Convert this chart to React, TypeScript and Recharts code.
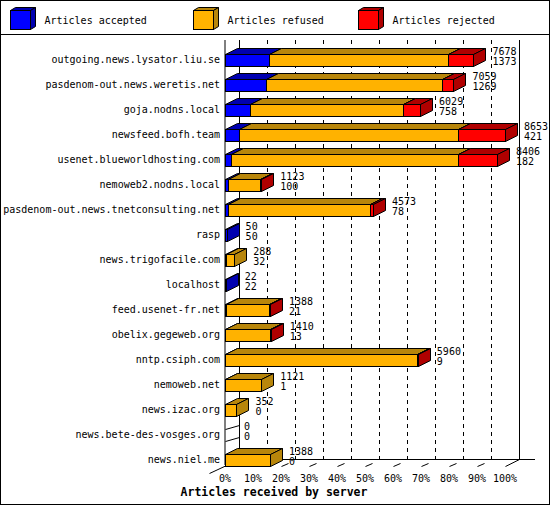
import { Bar, BarChart, CartesianGrid, LabelList, XAxis, YAxis } from "recharts";

// Articles received per feeding server (innreport style).
const servers = [
  "outgoing.news.lysator.liu.se",
  "pasdenom-out.news.weretis.net",
  "goja.nodns.local",
  "newsfeed.bofh.team",
  "usenet.blueworldhosting.com",
  "nemoweb2.nodns.local",
  "pasdenom-out.news.tnetconsulting.net",
  "rasp",
  "news.trigofacile.com",
  "localhost",
  "feed.usenet-fr.net",
  "obelix.gegeweb.org",
  "nntp.csiph.com",
  "nemoweb.net",
  "news.izac.org",
  "news.bete-des-vosges.org",
  "news.niel.me",
];
const totals = [7678, 7059, 6029, 8653, 8406, 1123, 4573, 50, 288, 22, 1388, 1410, 5960, 1121, 352, 0, 1388];
const accepted = [1373, 1269, 758, 421, 182, 100, 78, 50, 32, 22, 21, 13, 9, 1, 0, 0, 0];
const refused = [5520, 5450, 4746, 6769, 7008, 993, 4395, 0, 256, 0, 1352, 1387, 5936, 1120, 352, 0, 1388];
const rejected = [785, 340, 525, 1463, 1216, 30, 100, 0, 0, 0, 15, 10, 15, 0, 0, 0, 0];
const percentTicks = [0, 10, 20, 30, 40, 50, 60, 70, 80, 90, 100];

const series = [
  { key: "accepted", name: "Articles accepted", front: "#0000ff", dark: "#0000b0" },
  { key: "refused", name: "Articles refused", front: "#ffb200", dark: "#b8860b" },
  { key: "rejected", name: "Articles rejected", front: "#ff0000", dark: "#b00000" },
];

const data = servers.map((name, i) => ({
  name,
  total: totals[i],
  accepted: accepted[i],
  refused: refused[i],
  rejected: rejected[i],
}));
const maxTotal = Math.max(...totals);

const FONT = "'DejaVu Sans Mono', 'Liberation Mono', monospace";
const W = 548; // inside the 1px frame
const LEGEND_H = 34;
const CHART_H = 503 - LEGEND_H;
const MARGIN = { top: 5, right: 44, bottom: 0, left: 0 };
const Y_AXIS_W = 224;
const X_AXIS_H = 39;
const PLOT_RIGHT = W - MARGIN.right;
const DX = 12; // bar depth
const DY = 6;
const WALL_DX = 14;
const WALL_DY = 6;
const SHIFT = 7; // bars sit at the bottom of their band
const LEGEND_X = [9, 192, 357];

const px = (v: number) => Math.round(v) + 0.5;

function boxShape(front: string, dark: string, first: boolean) {
  return (props: any) => {
    const { x, y, width, height, payload } = props;
    if (!(height > 0)) return <g />;
    const l = px(x);
    const t = px(y + SHIFT);
    const b = t + Math.round(height);
    if (!(width > 0)) {
      // an empty row still shows the edges of a flat box
      if (first && payload && payload.total === 0) {
        return (
          <g stroke="#000" strokeWidth={1}>
            <line x1={l} y1={t} x2={l + DX + 2} y2={t - DY + 2} />
            <line x1={l} y1={b} x2={l + DX + 2} y2={b - DY + 2} />
          </g>
        );
      }
      return <g />;
    }
    const r = Math.max(px(x + width), l + 1);
    return (
      <g stroke="#000" strokeWidth={1}>
        <polygon points={`${l},${t} ${l + DX},${t - DY} ${r + DX},${t - DY} ${r},${t}`} fill={dark} />
        <polygon points={`${r},${t} ${r + DX},${t - DY} ${r + DX},${b - DY} ${r},${b}`} fill={dark} />
        <rect x={l} y={t} width={r - l} height={b - t} fill={front} />
      </g>
    );
  };
}

const labelBox = (props: any) => {
  const vb = props.viewBox ?? props;
  return { x: Number(vb.x ?? props.x), y: Number(vb.y ?? props.y), w: Number(vb.width ?? props.width ?? 0) };
};

const totalLabel = (props: any) => {
  const { x, y, w } = labelBox(props);
  return (
    <text x={x + w + 19} y={y + SHIFT + 1} fontFamily={FONT} fontSize={10} fill="#000">
      {props.value}
    </text>
  );
};

const acceptedLabel = (props: any) => {
  const { x, y, w } = labelBox(props);
  return (
    <text x={x + w + 19} y={y + SHIFT + 11} fontFamily={FONT} fontSize={10} fill="#000">
      {props.value}
    </text>
  );
};

const renderServerTick = (props: any) => {
  const { x, y, payload } = props;
  return (
    <text x={x} y={y + 6.5} dy="0.35em" textAnchor="end" fontFamily={FONT} fontSize={10} fill="#000">
      {payload.value}
    </text>
  );
};

const renderPercentTick = (props: any) => {
  const { x, y, payload } = props;
  return (
    <text x={x} y={y + 16.5} textAnchor="middle" fontFamily={FONT} fontSize={10} fill="#000">
      {`${Math.round((payload.value / maxTotal) * 100)}%`}
    </text>
  );
};

// back wall, floor and gridlines drawn one step behind the front plane
const renderGridLine = (props: any) => {
  const { x1, y1, y2, index } = props;
  const last = index === percentTicks.length - 1;
  const fx = px(x1);
  const bx = px(x1 + WALL_DX);
  const floorY = px(y2 - WALL_DY);
  const frontY = px(y2 + 1);
  return (
    <g key={`grid-${index}`} stroke="#000" strokeWidth={1} fill="none">
      <line x1={bx} y1={y1} x2={bx} y2={floorY} strokeDasharray={index === 0 || last ? undefined : "4 4"} />
      {last ? (
        <line x1={fx} y1={frontY} x2={bx} y2={floorY} />
      ) : (
        <line x1={fx} y1={frontY} x2={fx + 7} y2={frontY - 3} />
      )}
      {index === 0 && (
        <>
          <line x1={fx - 16} y1={frontY + 7} x2={bx} y2={floorY} />
          <line x1={bx} y1={floorY} x2={PLOT_RIGHT + 30} y2={floorY} />
        </>
      )}
    </g>
  );
};

const AxisTitle = () => (
  <text x={W / 2 - 1} y={CHART_H - 8} textAnchor="middle" fontFamily={FONT} fontSize={11.5} fontWeight="bold" fill="#000">
    Articles received by server
  </text>
);

function Legend3D() {
  return (
    <svg width={W} height={LEGEND_H} style={{ display: "block" }}>
      {series.map((s, i) => {
        const x = LEGEND_X[i] + 0.5;
        return (
          <g key={s.key}>
            <g stroke="#000" strokeWidth={1}>
              <polygon points={`${x},9.5 ${x + 5},6.5 ${x + 25},6.5 ${x + 20},9.5`} fill={s.dark} />
              <polygon points={`${x + 20},9.5 ${x + 25},6.5 ${x + 25},25.5 ${x + 20},28.5`} fill={s.dark} />
              <rect x={x} y={9.5} width={20} height={19} fill={s.front} />
            </g>
            <text x={x + 34} y={22.5} fontFamily={FONT} fontSize={10} fill="#000">
              {s.name}
            </text>
          </g>
        );
      })}
      <line x1={0} y1={33.5} x2={W} y2={33.5} stroke="#000" />
    </svg>
  );
}

export default function App() {
  return (
    <div style={{ width: W, height: 503, border: "1px solid #000", background: "#fff" }}>
      <style>{"body{margin:0}"}</style>
      <Legend3D />
      <BarChart width={W} height={CHART_H} data={data} layout="vertical" margin={MARGIN} barCategoryGap={0}>
        <CartesianGrid horizontal={false} vertical={renderGridLine} />
        <XAxis
          type="number"
          domain={[0, maxTotal]}
          ticks={percentTicks.map((p) => (p / 100) * maxTotal)}
          height={X_AXIS_H}
          axisLine={false}
          tickLine={false}
          tickSize={0}
          tickMargin={0}
          tick={renderPercentTick}
          interval={0}
          label={<AxisTitle />}
        />
        <YAxis
          type="category"
          dataKey="name"
          width={Y_AXIS_W}
          axisLine={{ stroke: "#000" }}
          tickLine={false}
          tickSize={0}
          tickMargin={5}
          tick={renderServerTick}
          interval={0}
        />
        {series.map((s, i) => (
          <Bar
            key={s.key}
            dataKey={s.key}
            name={s.name}
            stackId="in"
            barSize={12}
            fill={s.front}
            shape={boxShape(s.front, s.dark, i === 0)}
            isAnimationActive={false}
          >
            {s.key === "rejected" && [
              <LabelList key="total" dataKey="total" content={totalLabel} />,
              <LabelList key="accepted" dataKey="accepted" content={acceptedLabel} />,
            ]}
          </Bar>
        ))}
      </BarChart>
    </div>
  );
}
